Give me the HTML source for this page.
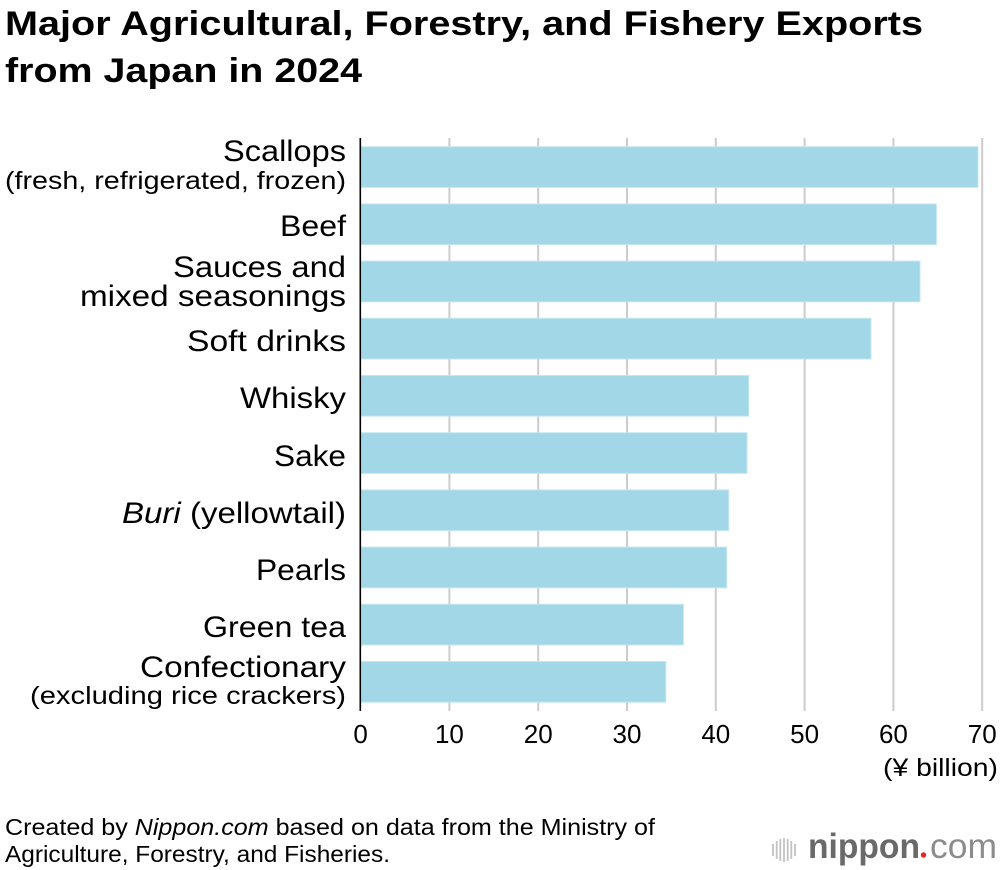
<!DOCTYPE html>
<html>
<head>
<meta charset="utf-8">
<style>
  html, body { margin: 0; padding: 0; background: #ffffff; }
  svg { display: block; }
  text { font-family: "Liberation Sans", Arial, Helvetica, sans-serif; fill: #000; }
</style>
</head>
<body>
<svg width="1000" height="870" viewBox="0 0 1000 870" xmlns="http://www.w3.org/2000/svg">
  <rect x="0" y="0" width="1000" height="870" fill="#ffffff"/>

  <!-- Title -->
  <text x="5" y="35" font-size="34" font-weight="bold" textLength="918" lengthAdjust="spacingAndGlyphs">Major Agricultural, Forestry, and Fishery Exports</text>
  <text x="5" y="82" font-size="34" font-weight="bold" textLength="357" lengthAdjust="spacingAndGlyphs">from Japan in 2024</text>

  <!-- Gridlines -->
  <g stroke="#cccccc" stroke-width="2">
    <line x1="449.4" y1="138" x2="449.4" y2="711"/>
    <line x1="538.2" y1="138" x2="538.2" y2="711"/>
    <line x1="627.0" y1="138" x2="627.0" y2="711"/>
    <line x1="715.8" y1="138" x2="715.8" y2="711"/>
    <line x1="804.6" y1="138" x2="804.6" y2="711"/>
    <line x1="893.4" y1="138" x2="893.4" y2="711"/>
    <line x1="982.2" y1="138" x2="982.2" y2="711"/>
  </g>

  <!-- Bars -->
  <g fill="#a2d7e8" stroke="#c4e6f1" stroke-width="1">
    <rect x="361" y="146.7" width="617" height="40.7"/>
    <rect x="361" y="203.9" width="575.4" height="40.7"/>
    <rect x="361" y="261.1" width="559" height="40.7"/>
    <rect x="361" y="318.3" width="510" height="40.7"/>
    <rect x="361" y="375.5" width="387.7" height="40.7"/>
    <rect x="361" y="432.7" width="386" height="40.7"/>
    <rect x="361" y="489.9" width="367.7" height="40.7"/>
    <rect x="361" y="547.1" width="365.7" height="40.7"/>
    <rect x="361" y="604.3" width="322.4" height="40.7"/>
    <rect x="361" y="661.5" width="304.8" height="40.7"/>
  </g>

  <!-- Axis line -->
  <line x1="360.3" y1="138" x2="360.3" y2="711" stroke="#000" stroke-width="1.6"/>

  <!-- Category labels -->
  <g font-size="30" text-anchor="end">
    <text x="346" y="161" textLength="123" lengthAdjust="spacingAndGlyphs">Scallops</text>
    <text x="346" y="236" textLength="66" lengthAdjust="spacingAndGlyphs">Beef</text>
    <text x="346" y="277" textLength="173" lengthAdjust="spacingAndGlyphs">Sauces and</text>
    <text x="346" y="306" textLength="266" lengthAdjust="spacingAndGlyphs">mixed seasonings</text>
    <text x="346" y="351" textLength="159" lengthAdjust="spacingAndGlyphs">Soft drinks</text>
    <text x="346" y="408" textLength="106" lengthAdjust="spacingAndGlyphs">Whisky</text>
    <text x="346" y="466" textLength="72" lengthAdjust="spacingAndGlyphs">Sake</text>
    <text x="346" y="523" textLength="224" lengthAdjust="spacingAndGlyphs"><tspan font-style="italic">Buri</tspan> (yellowtail)</text>
    <text x="346" y="580" textLength="90" lengthAdjust="spacingAndGlyphs">Pearls</text>
    <text x="346" y="637" textLength="143" lengthAdjust="spacingAndGlyphs">Green tea</text>
    <text x="346" y="677" textLength="206" lengthAdjust="spacingAndGlyphs">Confectionary</text>
  </g>
  <g font-size="25" text-anchor="end">
    <text x="346" y="189" textLength="341" lengthAdjust="spacingAndGlyphs">(fresh, refrigerated, frozen)</text>
    <text x="346" y="704" textLength="316" lengthAdjust="spacingAndGlyphs">(excluding rice crackers)</text>
  </g>

  <!-- Tick labels -->
  <g font-size="26" text-anchor="middle">
    <text x="360.6" y="743">0</text>
    <text x="449.4" y="743">10</text>
    <text x="538.2" y="743">20</text>
    <text x="627.0" y="743">30</text>
    <text x="715.8" y="743">40</text>
    <text x="804.6" y="743">50</text>
    <text x="893.4" y="743">60</text>
    <text x="982.2" y="743">70</text>
  </g>
  <text x="998" y="776" font-size="25" text-anchor="end" textLength="115" lengthAdjust="spacingAndGlyphs">(¥ billion)</text>

  <!-- Footer -->
  <text x="5" y="835" font-size="23" textLength="650" lengthAdjust="spacingAndGlyphs">Created by <tspan font-style="italic">Nippon.com</tspan> based on data from the Ministry of</text>
  <text x="5" y="862" font-size="23" textLength="385" lengthAdjust="spacingAndGlyphs">Agriculture, Forestry, and Fisheries.</text>

  <!-- Logo -->
  <g stroke="#c2c2c2" stroke-width="1.8">
    <line x1="773" y1="844" x2="773" y2="856"/>
    <line x1="776.7" y1="841" x2="776.7" y2="859"/>
    <line x1="780.3" y1="839" x2="780.3" y2="861"/>
    <line x1="784" y1="838" x2="784" y2="862"/>
    <line x1="787.7" y1="839" x2="787.7" y2="861"/>
    <line x1="791.3" y1="841" x2="791.3" y2="859"/>
    <line x1="795" y1="844" x2="795" y2="856"/>
  </g>
  <text x="808" y="858" font-size="35" font-weight="bold" style="fill:#6a6a6a" textLength="112" lengthAdjust="spacingAndGlyphs">nippon</text>
  <circle cx="923.5" cy="855" r="2.7" fill="#e8212b"/>
  <text x="930" y="858" font-size="35" style="fill:#8c8c8c" textLength="67" lengthAdjust="spacingAndGlyphs">com</text>
</svg>
</body>
</html>
